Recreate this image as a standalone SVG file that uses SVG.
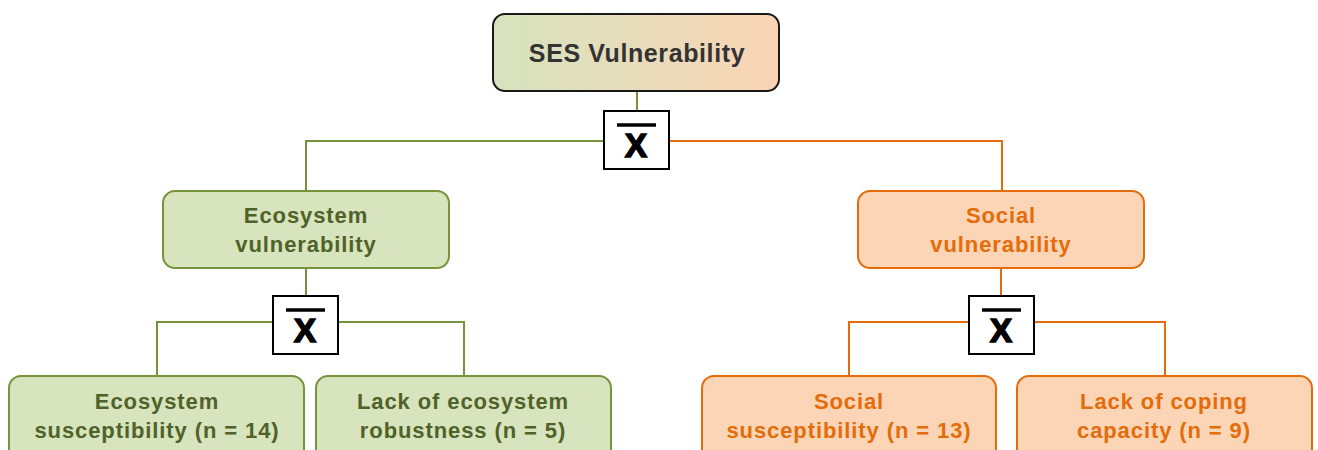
<svg xmlns="http://www.w3.org/2000/svg" width="1318" height="450" viewBox="0 0 1318 450">
<defs>
<linearGradient id="g" x1="0" y1="0" x2="1" y2="0">
<stop offset="0" stop-color="#d6e3bd"/>
<stop offset="0.5" stop-color="#e8dcbb"/>
<stop offset="1" stop-color="#fbd4b4"/>
</linearGradient>
</defs>
<style>
text{font-family:"Liberation Sans",Arial,sans-serif;font-weight:bold;font-size:22px;letter-spacing:0.9px;text-anchor:middle}
.gn rect{fill:#d7e4bd;stroke:#77933c;stroke-width:2}
.gn text{fill:#4f6228}
.or rect{fill:#fbd5b5;stroke:#e46c0a;stroke-width:2}
.or text{fill:#e46c0a}
.gl{stroke:#77933c;stroke-width:2;fill:none}
.ol{stroke:#e46c0a;stroke-width:2;fill:none}
.xb rect{fill:#fff;stroke:#000;stroke-width:2}
.xb text{fill:#000;stroke:#000;stroke-width:1.6;font-size:33px;letter-spacing:0}
.xb line{stroke:#000;stroke-width:3.5}
</style>
<g id="connectors">
<path class="gl" d="M637 91V111"/>
<path class="gl" d="M604 141H306V191"/>
<path class="ol" d="M669 141H1002V191"/>
<path class="gl" d="M306 268V296"/>
<path class="gl" d="M273 322H157V376"/>
<path class="gl" d="M338 322H464V376"/>
<path class="ol" d="M1001 268V296"/>
<path class="ol" d="M969 322H849V376"/>
<path class="ol" d="M1034 322H1165V376"/>
</g>
<g id="ses">
<rect x="493" y="14" width="286" height="77" rx="12" fill="url(#g)" stroke="#1a1a1a" stroke-width="2"/>
<text x="637" y="62" fill="#333" style="font-size:25px;letter-spacing:0.6px">SES Vulnerability</text>
</g>
<g id="op1" class="xb">
<rect x="604" y="111" width="65" height="58"/>
<line x1="617" y1="125" x2="656" y2="125"/>
<text x="636" y="157">X</text>
</g>
<g id="eco" class="gn">
<rect x="163" y="191" width="286" height="77" rx="12"/>
<text x="306" y="223">Ecosystem</text>
<text x="306" y="252">vulnerability</text>
</g>
<g id="soc" class="or">
<rect x="858" y="191" width="286" height="77" rx="12"/>
<text x="1001" y="223">Social</text>
<text x="1001" y="252">vulnerability</text>
</g>
<g id="op2" class="xb">
<rect x="273" y="296" width="65" height="58"/>
<line x1="286" y1="310" x2="325" y2="310"/>
<text x="305" y="342">X</text>
</g>
<g id="op3" class="xb">
<rect x="969" y="296" width="65" height="58"/>
<line x1="982" y1="310" x2="1021" y2="310"/>
<text x="1001" y="342">X</text>
</g>
<g id="ecosus" class="gn">
<rect x="9" y="376" width="295" height="85" rx="12"/>
<text x="157" y="409">Ecosystem</text>
<text x="157" y="438">susceptibility (n = 14)</text>
</g>
<g id="ecorob" class="gn">
<rect x="316" y="376" width="295" height="85" rx="12"/>
<text x="463" y="409">Lack of ecosystem</text>
<text x="463" y="438">robustness (n = 5)</text>
</g>
<g id="socsus" class="or">
<rect x="702" y="376" width="294" height="85" rx="12"/>
<text x="849" y="409">Social</text>
<text x="849" y="438">susceptibility (n = 13)</text>
</g>
<g id="cope" class="or">
<rect x="1017" y="376" width="295" height="85" rx="12"/>
<text x="1164" y="409">Lack of coping</text>
<text x="1164" y="438">capacity (n = 9)</text>
</g>
</svg>
